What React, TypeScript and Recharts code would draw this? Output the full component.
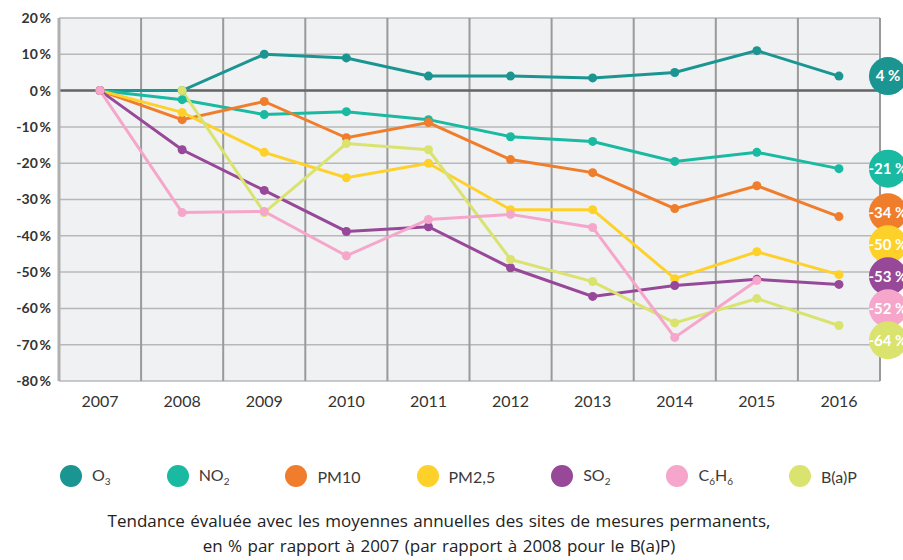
import {
  LineChart,
  Line,
  XAxis,
  YAxis,
  CartesianGrid,
  ReferenceLine,
  ReferenceDot,
} from 'recharts';

const years = [2007, 2008, 2009, 2010, 2011, 2012, 2013, 2014, 2015, 2016];
const o3 = [0, 0, 10, 9, 4, 4, 3.5, 5, 11, 4];
const no2 = [0, -2.5, -6.6, -5.8, -8, -12.7, -14, -19.5, -17, -21.5];
const pm10 = [0, -8, -3, -13, -8.8, -19, -22.6, -32.5, -26.2, -34.7];
const pm25 = [0, -6, -17, -24, -20, -32.8, -32.8, -51.8, -44.4, -50.7];
const so2 = [0, -16.3, -27.5, -38.8, -37.5, -48.8, -56.7, -53.7, -52, -53.4];
const c6h6 = [0, -33.6, -33.3, -45.5, -35.5, -34.1, -37.7, -68, -52.3, null];
const bap = [null, 0, -33.6, -14.6, -16.3, -46.5, -52.6, -64, -57.3, -64.7];
const badgeLabels = ['4 %', '-21 %', '-34 %', '-50 %', '-53 %', '-52 %', '-64 %'];
const yTicks = [20, 10, 0, -10, -20, -30, -40, -50, -60, -70, -80];

const series = [
  { key: 'o3', name: 'O', sub: '3', color: '#1b9591', values: o3 },
  { key: 'no2', name: 'NO', sub: '2', color: '#1ab9a1', values: no2 },
  { key: 'pm10', name: 'PM10', sub: '', color: '#f07d2b', values: pm10 },
  { key: 'pm25', name: 'PM2,5', sub: '', color: '#fed12a', values: pm25 },
  { key: 'so2', name: 'SO', sub: '2', color: '#984898', values: so2 },
  { key: 'bap', name: 'B(a)P', sub: '', color: '#d9e36e', values: bap },
  { key: 'c6h6', name: 'C', sub: '6', color: '#f5a6ca', values: c6h6 },
];
// legend order differs from drawing order
const legendOrder = ['o3', 'no2', 'pm10', 'pm25', 'so2', 'c6h6', 'bap'];

const data = years.map((year, i) => {
  const row: Record<string, number | null> = { year };
  series.forEach((s) => (row[s.key] = s.values[i]));
  return row;
});

const Y_MIN = -80;
const Y_MAX = 20;
const PLOT_H = 363;
const BADGE_GAP = 32 / (PLOT_H / (Y_MAX - Y_MIN));

const lastValue = (vals: (number | null)[]) => {
  for (let i = vals.length - 1; i >= 0; i--) if (vals[i] != null) return vals[i] as number;
  return 0;
};

// simple 1D label de-overlap: merge clusters and centre them on their targets
function layoutBadges(targets: number[]) {
  type C = { idx: number[]; sum: number };
  const place = (c: C) => {
    const mean = c.sum / c.idx.length;
    return c.idx.map((_, k) => mean + ((c.idx.length - 1) / 2 - k) * BADGE_GAP);
  };
  let clusters: C[] = targets.map((t, i) => ({ idx: [i], sum: t }));
  let merged = true;
  while (merged) {
    merged = false;
    for (let i = 0; i < clusters.length - 1; i++) {
      const a = place(clusters[i]);
      const b = place(clusters[i + 1]);
      if (a[a.length - 1] - b[0] < BADGE_GAP) {
        clusters[i] = { idx: [...clusters[i].idx, ...clusters[i + 1].idx], sum: clusters[i].sum + clusters[i + 1].sum };
        clusters.splice(i + 1, 1);
        merged = true;
        break;
      }
    }
  }
  const out: number[] = [];
  clusters.forEach((c) => place(c).forEach((v, k) => (out[c.idx[k]] = v)));
  return out;
}

const legendSeries = legendOrder.map((k) => series.find((s) => s.key === k)!);
const badgeY = layoutBadges(legendSeries.map((s) => lastValue(s.values)));
const boundaries = [years[0] - 0.5, ...years.slice(0, -1).map((y) => y + 0.5)];

const fmtPct = (v: number) => `${v}\u2009%`;

function Badge(props: any) {
  const { cx, cy, color, label } = props;
  if (cx == null || cy == null) return null;
  const x = cx + 49;
  return (
    <g>
      <circle cx={x} cy={cy} r={19} fill={color} />
      <text x={x} y={cy} dy="0.35em" textAnchor="middle" fill="#fff" fontSize={15} fontWeight={700} fontFamily="Lato">
        {label}
      </text>
    </g>
  );
}

export default function App() {
  return (
    <div style={{ position: 'fixed', left: 0, top: 0, width: 903, height: 560, background: '#fff', fontFamily: 'Lato, sans-serif' }}>
      <LineChart width={903} height={420} data={data} margin={{ top: 18, right: 23, left: 0, bottom: 9 }}>
        <XAxis
          xAxisId="grid"
          dataKey="year"
          type="number"
          domain={[years[0] - 0.5, years[years.length - 1] + 0.5]}
          ticks={boundaries}
          interval={0}
          tickFormatter={() => ''}
          tickLine={{ stroke: '#9a9a9a', strokeWidth: 2 }}
          tickSize={12}
          axisLine={false}
          height={0}
        />
        <XAxis
          xAxisId="year"
          dataKey="year"
          type="number"
          domain={[years[0] - 0.5, years[years.length - 1] + 0.5]}
          ticks={years}
          interval={0}
          tickLine={false}
          axisLine={false}
          tickMargin={9}
          tick={{ fill: '#333', fontSize: 16, fontFamily: 'Lato' }}
          height={30}
        />
        <YAxis
          domain={[Y_MIN, Y_MAX]}
          ticks={yTicks}
          interval={0}
          width={59}
          tickFormatter={fmtPct}
          tickLine={false}
          axisLine={{ stroke: '#b0b0b0', strokeWidth: 3 }}
          tick={{ fill: '#333', fontSize: 14, fontWeight: 700, fontFamily: 'Lato' }}
        />
        <CartesianGrid xAxisId="year" vertical={false} stroke="#b8b8b8" strokeWidth={1.5} fill="#eff1f3" fillOpacity={1} />
        <CartesianGrid xAxisId="grid" horizontal={false} stroke="#9a9a9a" strokeWidth={2} />
        <ReferenceLine xAxisId="year" y={0} stroke="#666" strokeWidth={2.5} />
        {series.map((s) => (
          <Line
            key={s.key}
            xAxisId="year"
            dataKey={s.key}
            stroke={s.color}
            strokeWidth={3}
            dot={{ r: 4.5, fill: s.color, stroke: s.color, strokeWidth: 0 }}
            activeDot={false}
            isAnimationActive={false}
          />
        ))}
        {legendSeries.map((s, i) => (
          <ReferenceDot
            key={s.key}
            xAxisId="year"
            x={years[years.length - 1]}
            y={badgeY[i]}
            ifOverflow="visible"
            shape={(p: any) => <Badge {...p} color={s.color} label={badgeLabels[i]} />}
          />
        ))}
      </LineChart>
      <div style={{ position: 'absolute', top: 465, left: 60, display: 'flex', alignItems: 'center', gap: 56, color: '#3a3a3a', fontSize: 16 }}>
        {legendSeries.map((s) => (
          <div key={s.key} style={{ display: 'flex', alignItems: 'center' }}>
            <span style={{ width: 22, height: 22, borderRadius: 11, background: s.color, marginRight: 10 }} />
            <span>
              {s.key === 'c6h6' ? (
                <>
                  C<sub style={{ fontSize: 10 }}>6</sub>H<sub style={{ fontSize: 10 }}>6</sub>
                </>
              ) : (
                <>
                  {s.name}
                  {s.sub && <sub style={{ fontSize: 10 }}>{s.sub}</sub>}
                </>
              )}
            </span>
          </div>
        ))}
      </div>
      <div style={{ position: 'absolute', top: 508, left: 0, width: 878, textAlign: 'center', fontSize: 17, lineHeight: '25px', color: '#222', fontFamily: '"Open Sans", sans-serif', wordSpacing: 1 }}>
        Tendance évaluée avec les moyennes annuelles des sites de mesures permanents,
        <br />
        en % par rapport à 2007 (par rapport à 2008 pour le B(a)P)
      </div>
    </div>
  );
}
